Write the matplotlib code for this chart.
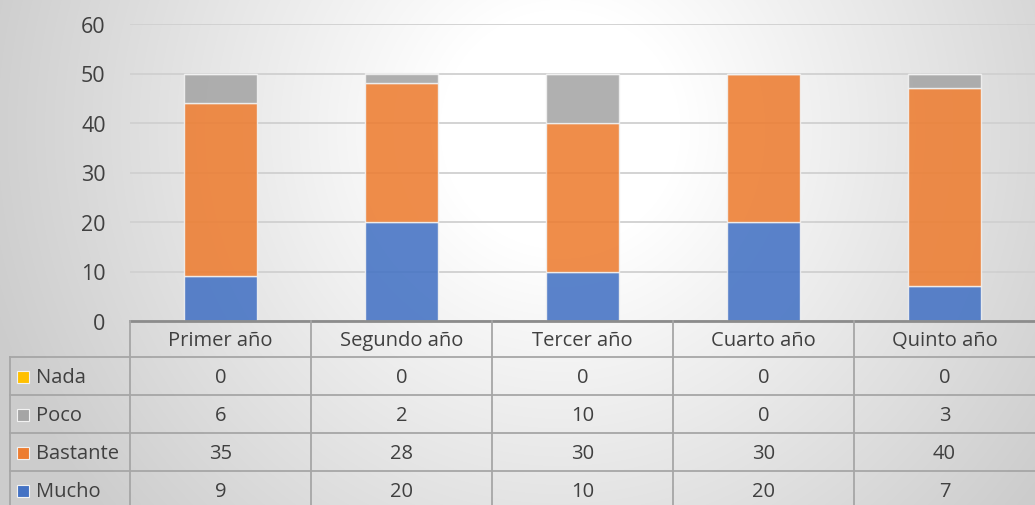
import numpy as np
import matplotlib
matplotlib.use('Agg')
import matplotlib.pyplot as plt
from matplotlib.lines import Line2D
from matplotlib.patches import Rectangle

categories = ['Primer año', 'Segundo año', 'Tercer año', 'Cuarto año', 'Quinto año']
series_names = ['Nada', 'Poco', 'Bastante', 'Mucho']
nada = [0, 0, 0, 0, 0]
poco = [6, 2, 10, 0, 3]
bastante = [35, 28, 30, 30, 40]
mucho = [9, 20, 10, 20, 7]
yticks = [0, 10, 20, 30, 40, 50, 60]

colors = {'Nada': '#ffc000', 'Poco': '#a5a5a5', 'Bastante': '#ed7d31', 'Mucho': '#4472c4'}
values = {'Nada': nada, 'Poco': poco, 'Bastante': bastante, 'Mucho': mucho}
text_color = '#404040'
line_color = '#a6a6a6'
fs = 14.5

plt.rcParams['font.family'] = ['Open Sans', 'DejaVu Sans']

W, H = 1035, 506
fig = plt.figure(figsize=(W / 100, H / 100), dpi=100)

# background radial gradient
bg = fig.add_axes([0, 0, 1, 1], zorder=-10)
yy, xx = np.mgrid[0:H, 0:W]
r = np.hypot(xx - 560, yy - 130)
shade = 1 - 0.2 * np.clip((r - 120) / 480, 0, 1)
bg.imshow(np.dstack([shade] * 3), extent=[0, 1, 0, 1], aspect='auto', origin='upper')
bg.axis('off')

x0, x1 = 130, 1035
y_top, y_zero = 25, 322
ax = fig.add_axes([x0 / W, (H - y_zero) / H, (x1 - x0) / W, (y_zero - y_top) / H])
ax.patch.set_alpha(0)
x = np.arange(len(categories))
bottom = np.zeros(len(categories))
for name in ['Mucho', 'Bastante', 'Poco', 'Nada']:
    v = np.array(values[name], dtype=float)
    ax.bar(x, v, 0.4, bottom=bottom, color=colors[name], alpha=0.88,
           edgecolor='#f2f2f2', linewidth=1, zorder=3)
    bottom += v
ax.set_xlim(-0.5, len(categories) - 0.5)
ax.set_ylim(0, 60)
ax.set_yticks(yticks)
ax.set_yticklabels([str(t) for t in yticks], fontsize=15.5, color=text_color)
ax.tick_params(axis='y', length=0, pad=17.5)
ax.set_xticks([])
ax.grid(axis='y', color='#d0d0d0', linewidth=1.3, zorder=0)
for s in ax.spines.values():
    s.set_visible(False)

# data table drawn in pixel coordinates
def fx(px):
    return px / W

def fy(py):
    return (H - py) / H

row_h = 38
header_top = y_zero
header_bot = header_top + 36
row_tops = [header_bot + i * row_h for i in range(len(series_names))]
col_edges = [x0 + i * (x1 - x0) / len(categories) for i in range(len(categories) + 1)]
label_left = 10

# axis line on top of the table
fig.add_artist(Line2D([fx(x0), fx(x1)], [fy(header_top), fy(header_top)],
                      color='#8c8c8c', linewidth=2))
for yt in row_tops:
    fig.add_artist(Line2D([fx(label_left), fx(x1)], [fy(yt), fy(yt)], color=line_color, linewidth=1.3))
for xe in col_edges[:-1]:
    fig.add_artist(Line2D([fx(xe), fx(xe)], [fy(header_top), fy(H + 5)], color=line_color, linewidth=1.3))
fig.add_artist(Line2D([fx(label_left), fx(label_left)], [fy(header_bot), fy(H + 5)],
                      color=line_color, linewidth=1.3))

for i, cat in enumerate(categories):
    cx = (col_edges[i] + col_edges[i + 1]) / 2
    fig.text(fx(cx), fy((header_top + header_bot) / 2 + 1), cat, ha='center', va='center',
             fontsize=fs, color=text_color)

for j, name in enumerate(series_names):
    cy = row_tops[j] + row_h / 2 + 1
    fig.add_artist(Rectangle((fx(17), fy(cy + 6)), 12 / W, 12 / H, facecolor=colors[name],
                             edgecolor='#f2f2f2', linewidth=0.8))
    fig.text(fx(36), fy(cy), name, ha='left', va='center', fontsize=fs, color=text_color)
    for i, v in enumerate(values[name]):
        cx = (col_edges[i] + col_edges[i + 1]) / 2
        fig.text(fx(cx), fy(cy), str(v), ha='center', va='center', fontsize=fs, color=text_color)

fig.savefig('out.png', dpi=100)
